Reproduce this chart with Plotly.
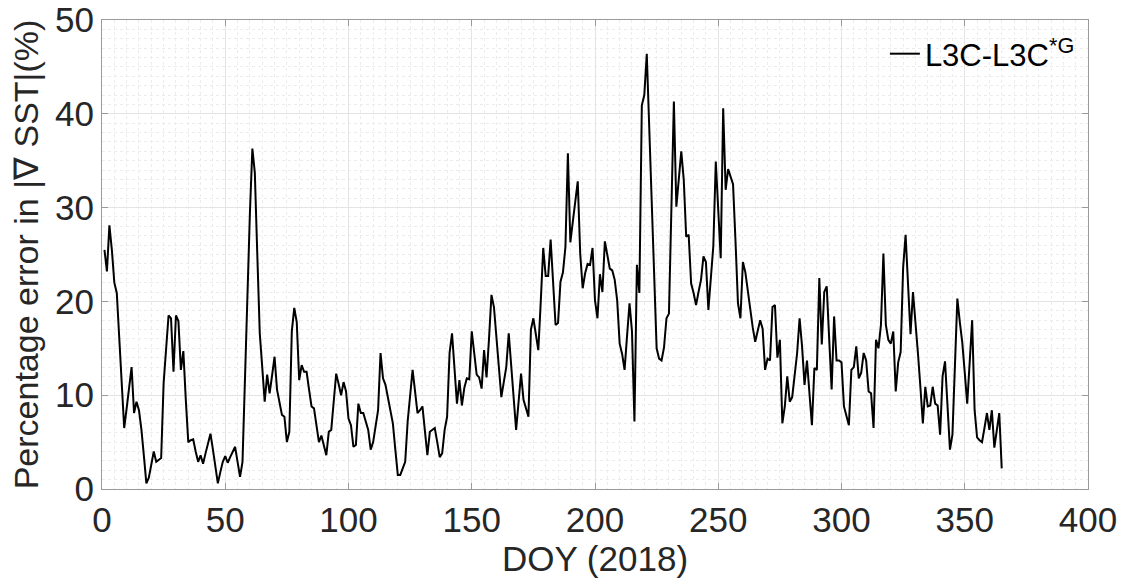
import plotly.graph_objects as go

doy = list(range(1, 366))
pct_error = [
    25.5, 23.2, 28.1, 25.5, 22.0, 20.9, 16.1, 10.8, 6.5, 8.6,
    10.8, 13.0, 8.1, 9.3, 8.4, 6.3, 3.5, 0.6, 1.2, 2.5,
    4.0, 2.9, 3.1, 3.3, 11.3, 15.0, 18.5, 18.2, 12.5, 18.5,
    17.9, 12.7, 14.7, 9.5, 5.0, 5.2, 5.3, 4.0, 2.9, 3.6,
    2.7, 3.8, 4.9, 5.9, 4.2, 2.4, 0.6, 1.8, 2.9, 3.5,
    2.8, 3.4, 3.9, 4.5, 2.9, 1.3, 2.9, 12.3, 20.9, 29.4,
    36.3, 33.7, 25.0, 16.6, 13.0, 9.3, 12.2, 10.2, 12.1, 14.1,
    10.6, 9.2, 7.9, 7.7, 5.0, 6.1, 16.8, 19.3, 17.8, 11.6,
    13.2, 12.5, 12.5, 10.6, 8.8, 8.6, 6.8, 5.0, 5.7, 4.6,
    3.6, 6.1, 6.3, 9.3, 12.3, 11.2, 10.0, 11.4, 10.4, 7.5,
    6.8, 4.5, 4.7, 9.1, 8.1, 8.1, 7.2, 6.3, 4.2, 5.0,
    6.7, 8.4, 14.5, 11.8, 11.1, 9.7, 8.4, 7.0, 4.2, 1.5,
    1.5, 2.2, 2.9, 7.2, 10.0, 12.7, 10.4, 8.1, 8.4, 8.8,
    6.2, 3.6, 6.1, 6.3, 6.5, 5.0, 3.4, 3.8, 6.3, 7.7,
    14.5, 16.6, 13.0, 9.1, 11.6, 8.9, 10.8, 11.8, 11.7, 16.8,
    14.5, 12.2, 11.9, 10.7, 14.8, 11.9, 16.0, 20.7, 19.4, 16.0,
    12.8, 9.8, 11.4, 13.0, 16.6, 13.4, 10.2, 6.3, 9.3, 12.3,
    9.5, 8.6, 7.7, 17.0, 18.2, 16.5, 14.8, 20.0, 25.7, 22.7,
    22.7, 26.6, 22.0, 17.5, 17.7, 22.1, 23.1, 25.8, 35.8, 26.3,
    28.5, 30.7, 32.8, 25.1, 21.4, 23.0, 24.0, 23.9, 25.7, 20.1,
    18.2, 22.9, 21.0, 26.4, 24.8, 23.5, 23.3, 22.3, 20.1, 15.5,
    14.4, 12.7, 16.3, 19.8, 16.8, 7.2, 23.9, 20.9, 40.9, 42.0,
    46.4, 38.3, 30.1, 22.5, 15.0, 13.9, 13.7, 15.1, 18.2, 18.7,
    31.6, 41.3, 30.1, 33.0, 36.0, 33.0, 26.9, 27.1, 21.9, 20.9,
    19.6, 21.0, 22.3, 24.8, 24.2, 19.1, 22.5, 25.9, 34.9, 30.0,
    24.6, 40.6, 31.9, 34.1, 33.3, 32.5, 26.4, 19.8, 18.2, 24.2,
    23.1, 21.0, 18.7, 17.2, 15.7, 16.8, 18.0, 17.1, 12.7, 13.9,
    13.7, 19.4, 19.6, 14.0, 15.9, 7.0, 8.8, 12.0, 9.3, 9.8,
    12.2, 14.5, 18.2, 15.2, 11.1, 13.7, 10.2, 6.8, 12.9, 12.7,
    22.5, 15.4, 21.0, 21.6, 16.0, 10.6, 18.4, 13.7, 13.7, 13.5,
    8.8, 7.8, 6.8, 12.7, 13.0, 15.2, 11.8, 12.4, 14.5, 13.7,
    10.4, 10.2, 6.5, 15.9, 15.0, 17.5, 25.1, 17.5, 15.9, 15.5,
    16.8, 10.4, 13.5, 14.6, 23.6, 27.1, 21.5, 16.5, 21.0, 18.1,
    14.5, 10.9, 7.0, 10.9, 8.8, 8.9, 10.9, 9.1, 8.9, 5.8,
    12.0, 13.6, 9.2, 4.2, 5.8, 13.0, 20.3, 17.8, 15.6, 12.4,
    9.1, 13.5, 18.0, 8.4, 5.5, 5.2, 5.0, 6.5, 8.1, 6.3,
    8.4, 4.4, 6.2, 8.1, 2.2,
]

x_ticks = [0, 50, 100, 150, 200, 250, 300, 350, 400]
y_ticks = [0, 10, 20, 30, 40, 50]

FONT = "Liberation Sans, Arial, sans-serif"
TXT = "#262626"

fig = go.Figure()
fig.add_trace(go.Scatter(
    x=doy, y=pct_error, mode="lines",
    line=dict(color="black", width=2),
    name="L3C-L3C<sup>*G</sup>",
))

axis_common = dict(
    showline=True, linecolor="#9a9a9a", linewidth=1, mirror="ticks",
    ticks="inside", ticklen=6, tickcolor="#9a9a9a",
    showgrid=True, gridcolor="#e4e4e4", gridwidth=1,
    zeroline=False, automargin=False,
    tickfont=dict(family=FONT, size=35, color=TXT),
)

fig.update_layout(
    width=1123, height=581,
    margin=dict(l=102, r=35, t=20, b=92),
    paper_bgcolor="white", plot_bgcolor="white",
    font=dict(family=FONT, color=TXT),
    showlegend=True,
    legend=dict(
        x=0.794, y=0.985, xanchor="left", yanchor="top",
        bgcolor="rgba(0,0,0,0)", borderwidth=0,
        font=dict(family=FONT, size=31, color="black"),
        itemwidth=30,
    ),
    xaxis=dict(
        range=[0, 400], tickvals=x_ticks,
        title=dict(text="DOY (2018)", font=dict(family=FONT, size=35, color=TXT), standoff=6),
        minor=dict(dtick=5, showgrid=True, gridcolor="#ececec", griddash="dot", ticks=""),
        **axis_common,
    ),
    yaxis=dict(
        range=[0, 50], tickvals=y_ticks,
        title=dict(text="Percentage error in |\u2207 SST|(%)", font=dict(family=FONT, size=34, color=TXT), standoff=6),
        minor=dict(dtick=1, showgrid=True, gridcolor="#ececec", griddash="dot", ticks=""),
        **axis_common,
    ),
)

fig.write_html("out.html")
